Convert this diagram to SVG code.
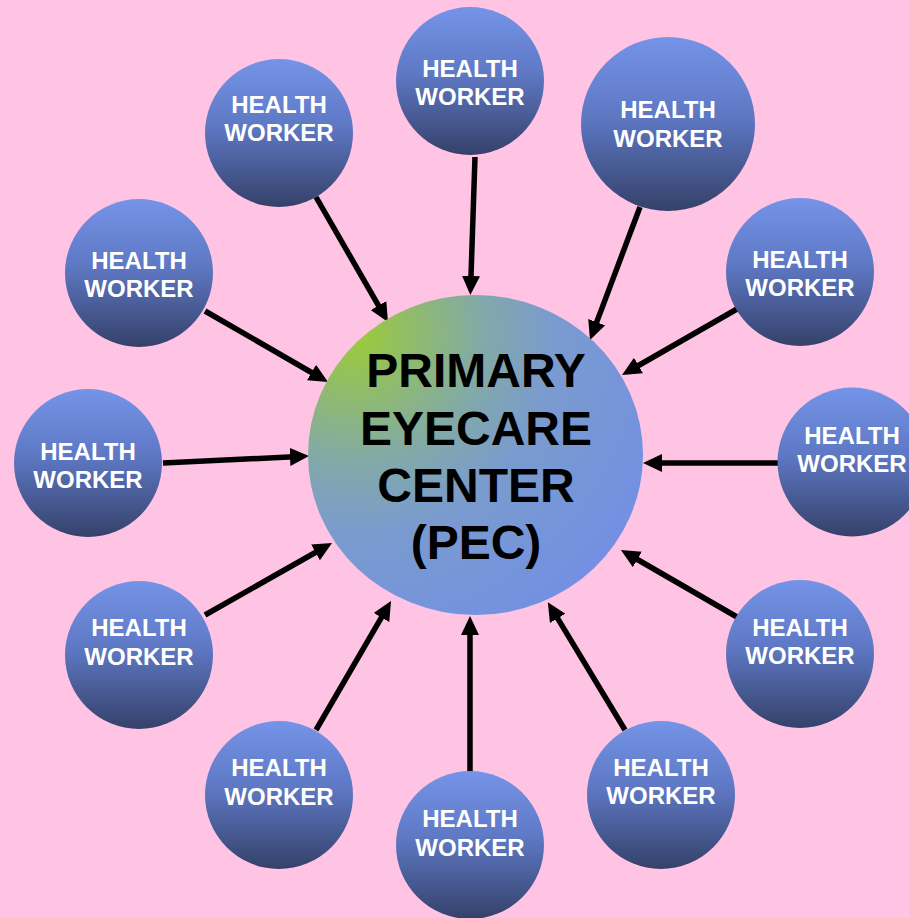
<svg xmlns="http://www.w3.org/2000/svg" width="909" height="918" viewBox="0 0 909 918">
<defs>
<style>
.hw{fill:url(#hwGrad);}
.hwt{font-family:"Liberation Sans",Arial,sans-serif;font-weight:bold;font-size:24px;fill:#ffffff;text-anchor:middle;}
.pct{font-family:"Liberation Sans",Arial,sans-serif;font-weight:bold;font-size:48px;fill:#000000;text-anchor:middle;}
.arr{stroke:#000000;stroke-width:5.5;fill:none;marker-end:url(#ah);}
</style>
<linearGradient id="hwGrad" x1="0" y1="0" x2="0" y2="1">
<stop offset="0" stop-color="#7594E8"/>
<stop offset="0.45" stop-color="#5E78C4"/>
<stop offset="1" stop-color="#35416A"/>
</linearGradient>
<radialGradient id="pecGrad" gradientUnits="userSpaceOnUse" cx="355" cy="335" r="330">
<stop offset="0" stop-color="#9CCB38"/>
<stop offset="0.38" stop-color="#82AAA6"/>
<stop offset="0.6" stop-color="#7A9BCE"/>
<stop offset="1" stop-color="#7390E2"/>
</radialGradient>
<marker id="ah" markerUnits="userSpaceOnUse" markerWidth="19" markerHeight="18" viewBox="0 0 19 18" refX="9" refY="9" orient="auto">
<path d="M0,0 L19,9 L0,18 z" fill="#000000"/>
</marker>
</defs>
<rect x="0" y="0" width="909" height="918" fill="#FFC3E3"/>
<g id="connectors">
<line class="arr" x1="475" y1="157" x2="470.7" y2="285"/>
<line class="arr" x1="316" y1="197" x2="383" y2="313.4"/>
<line class="arr" x1="640" y1="207" x2="593.5" y2="330.6"/>
<line class="arr" x1="205" y1="311" x2="319.3" y2="377"/>
<line class="arr" x1="737" y1="309" x2="630.7" y2="370"/>
<line class="arr" x1="163" y1="463" x2="299" y2="456.5"/>
<line class="arr" x1="778" y1="463" x2="653" y2="463"/>
<line class="arr" x1="205" y1="615" x2="323.3" y2="548"/>
<line class="arr" x1="737" y1="617" x2="629.6" y2="555"/>
<line class="arr" x1="316" y1="730" x2="386" y2="609.7"/>
<line class="arr" x1="625" y1="730" x2="553" y2="610.7"/>
<line class="arr" x1="470" y1="772" x2="470" y2="626"/>
</g>
<g id="pec">
<ellipse cx="475.5" cy="455" rx="167.5" ry="160" fill="url(#pecGrad)"/>
<text class="pct" x="476" y="387">PRIMARY</text>
<text class="pct" x="476" y="445">EYECARE</text>
<text class="pct" x="476" y="502">CENTER</text>
<text class="pct" x="476" y="559">(PEC)</text>
</g>
<g id="hw1"><circle class="hw" cx="470" cy="81" r="74"/><text class="hwt" x="470" y="77">HEALTH</text><text class="hwt" x="470" y="105">WORKER</text></g>
<g id="hw2"><circle class="hw" cx="279" cy="133" r="74"/><text class="hwt" x="279" y="113">HEALTH</text><text class="hwt" x="279" y="141">WORKER</text></g>
<g id="hw3"><circle class="hw" cx="668" cy="124" r="87"/><text class="hwt" x="668" y="118">HEALTH</text><text class="hwt" x="668" y="147">WORKER</text></g>
<g id="hw4"><circle class="hw" cx="139" cy="273" r="74"/><text class="hwt" x="139" y="269">HEALTH</text><text class="hwt" x="139" y="297">WORKER</text></g>
<g id="hw5"><circle class="hw" cx="800" cy="272" r="74"/><text class="hwt" x="800" y="268">HEALTH</text><text class="hwt" x="800" y="296">WORKER</text></g>
<g id="hw6"><circle class="hw" cx="88" cy="463" r="74"/><text class="hwt" x="88" y="460">HEALTH</text><text class="hwt" x="88" y="488">WORKER</text></g>
<g id="hw7"><circle class="hw" cx="852" cy="462" r="74.5"/><text class="hwt" x="852" y="444">HEALTH</text><text class="hwt" x="852" y="472">WORKER</text></g>
<g id="hw8"><circle class="hw" cx="139" cy="655" r="74"/><text class="hwt" x="139" y="636">HEALTH</text><text class="hwt" x="139" y="665">WORKER</text></g>
<g id="hw9"><circle class="hw" cx="800" cy="654" r="74"/><text class="hwt" x="800" y="636">HEALTH</text><text class="hwt" x="800" y="664">WORKER</text></g>
<g id="hw10"><circle class="hw" cx="279" cy="795" r="74"/><text class="hwt" x="279" y="776">HEALTH</text><text class="hwt" x="279" y="805">WORKER</text></g>
<g id="hw11"><circle class="hw" cx="661" cy="795" r="74"/><text class="hwt" x="661" y="776">HEALTH</text><text class="hwt" x="661" y="804">WORKER</text></g>
<g id="hw12"><circle class="hw" cx="470" cy="845" r="74"/><text class="hwt" x="470" y="827">HEALTH</text><text class="hwt" x="470" y="856">WORKER</text></g>
</svg>
